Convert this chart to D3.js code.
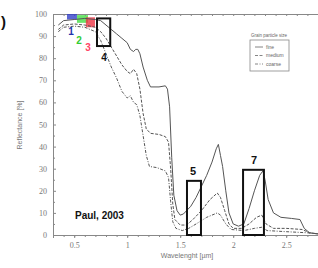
<!DOCTYPE html>
<html>
<head>
<meta charset="utf-8">
<script src="https://cdn.jsdelivr.net/npm/d3@7"></script>
<style>
  body { margin: 0; background: #fff; }
  svg { display: block; }
</style>
</head>
<body>
<div class="chart-container"></div>
<script>
// wavelength [µm] / reflectance [%]
const fineWl = [0.35, 0.4, 0.5, 0.6, 0.7, 0.75, 0.8, 0.85, 0.9, 0.95, 1.0, 1.03, 1.06, 1.08, 1.1, 1.12, 1.15, 1.19, 1.22, 1.3, 1.36, 1.38, 1.4, 1.42, 1.44, 1.47, 1.5, 1.53, 1.6, 1.65, 1.7, 1.75, 1.8, 1.84, 1.86, 1.88, 1.9, 1.93, 1.96, 2.0, 2.05, 2.1, 2.15, 2.2, 2.25, 2.28, 2.3, 2.33, 2.38, 2.45, 2.55, 2.63, 2.67, 2.72, 2.8]
const fineR = [95, 97, 97.5, 98, 97.5, 97, 95, 93, 91, 89, 87, 84, 83, 84, 84, 82, 76, 70, 67, 67, 67.5, 66, 58, 35, 18, 11, 9, 9.5, 13, 17, 22, 27, 33, 39, 41, 36, 31, 20, 10, 5, 4, 5, 12, 20, 27, 29, 25, 16, 10, 8, 7.5, 7, 3, 1, 0.5]

const mediumWl = [0.35, 0.4, 0.5, 0.6, 0.7, 0.75, 0.8, 0.85, 0.9, 0.95, 1.0, 1.03, 1.06, 1.09, 1.12, 1.15, 1.18, 1.22, 1.3, 1.36, 1.39, 1.41, 1.43, 1.45, 1.5, 1.56, 1.62, 1.7, 1.78, 1.85, 1.88, 1.92, 1.96, 2.0, 2.08, 2.15, 2.22, 2.27, 2.31, 2.38, 2.5, 2.65, 2.72, 2.8]
const mediumR = [93, 95, 95.5, 95, 94, 92, 89, 85, 81, 77, 74, 73, 75, 73, 66, 55, 48, 46, 45.5, 44.5, 42, 30, 14, 7, 4.5, 4.5, 7, 11, 16, 19, 17, 11, 5, 3, 3, 5, 8, 9, 5, 3, 3, 2.5, 1, 0.5]

const coarseWl = [0.35, 0.4, 0.5, 0.6, 0.7, 0.75, 0.8, 0.85, 0.9, 0.95, 1.0, 1.03, 1.06, 1.09, 1.12, 1.15, 1.18, 1.21, 1.28, 1.36, 1.39, 1.41, 1.43, 1.46, 1.52, 1.58, 1.65, 1.75, 1.85, 1.88, 1.93, 1.98, 2.1, 2.2, 2.27, 2.32, 2.5, 2.7, 2.8]
const coarseR = [92, 94, 94.5, 94, 92, 88, 82, 76, 71, 65, 62, 63, 60, 59, 54, 45, 36, 31, 30.5, 29, 26, 15, 6, 3, 2, 3, 5, 8, 10, 9, 5, 2.5, 2, 3, 3.5, 2, 1.5, 1, 0.5]

const seriesNames = ['fine', 'medium', 'coarse']
const xTicks = [0.5, 1, 1.5, 2, 2.5]
const yTicks = [0, 10, 20, 30, 40, 50, 60, 70, 80, 90, 100]

// sensor bands
const bandNames = ['1', '2', '3', '4', '5', '7']
const bandWl0 = [0.432, 0.526, 0.61, 0.715, 1.564, 2.093]
const bandWl1 = [0.526, 0.63, 0.696, 0.84, 1.696, 2.29]
const bandR0 = [97.5, 96, 94, 85.5, 0, 0]
const bandR1 = [100, 99.5, 98.5, 98, 24.5, 29.5]

const width = 318
const height = 268
const m = { left: 53, top: 14, bottom: 235, right: 318 }

const x = d3.scaleLinear().domain([0.3, 2.8]).range([m.left, m.right])
const y = d3.scaleLinear().domain([0, 100]).range([m.bottom, m.top])

const svg = d3
  .select('.chart-container')
  .append('svg')
  .attr('width', width)
  .attr('height', height)

const axisColor = '#888'
const tickFont = '"Liberation Serif", "DejaVu Serif", serif'

// axes
const gx = svg
  .append('g')
  .attr('transform', `translate(0,${m.bottom})`)
  .call(d3.axisBottom(x).tickValues(xTicks).tickSize(3).tickFormat(d3.format('')))
const gxMinor = svg
  .append('g')
  .attr('transform', `translate(0,${m.bottom})`)
  .call(d3.axisBottom(x).tickValues(d3.range(0.3, 2.81, 0.1)).tickSize(2).tickFormat(''))
const gxTop = svg
  .append('g')
  .attr('transform', `translate(0,${m.top})`)
  .call(d3.axisTop(x).tickValues(d3.range(0.3, 2.81, 0.1)).tickSize(-2).tickFormat(''))
const gy = svg
  .append('g')
  .attr('transform', `translate(${m.left},0)`)
  .call(d3.axisLeft(y).tickValues(yTicks).tickSize(-3).tickPadding(6))
const gyMinor = svg
  .append('g')
  .attr('transform', `translate(${m.left},0)`)
  .call(d3.axisLeft(y).tickValues(d3.range(5, 100, 10)).tickSize(-2).tickFormat(''))

;[gx, gxMinor, gxTop, gy, gyMinor].forEach((g) => {
  g.selectAll('path').attr('stroke', axisColor).attr('stroke-width', 1)
  g.selectAll('line').attr('stroke', axisColor)
  g.selectAll('text')
    .attr('fill', '#777')
    .attr('font-family', tickFont)
    .attr('font-size', 8)
})
gx.selectAll('text').attr('dy', '0.9em')

svg
  .append('text')
  .attr('x', 187)
  .attr('y', 258)
  .attr('text-anchor', 'middle')
  .attr('fill', '#777')
  .attr('font-family', 'Liberation Sans, Arial, sans-serif')
  .attr('font-size', 7)
  .text('Wavelenght [µm]')

svg
  .append('text')
  .attr('transform', 'translate(22,125) rotate(-90)')
  .attr('text-anchor', 'middle')
  .attr('fill', '#777')
  .attr('font-family', 'Liberation Sans, Arial, sans-serif')
  .attr('font-size', 7)
  .text('Reflectance [%]')

// panel letter (only its bracket is visible)
svg
  .append('text')
  .attr('x', 1)
  .attr('y', 27)
  .attr('font-family', 'Liberation Sans, Arial, sans-serif')
  .attr('font-weight', 'bold')
  .attr('font-size', 15)
  .attr('fill', '#111')
  .text(')')

// coloured visible bands
const bandFill = ['#3340c8', '#44dd44', '#ee3344']
const bandText = ['#2233aa', '#33cc33', '#ff4466']
const bands = svg.append('g').attr('class', 'bands')
for (let i = 0; i < 3; i++) {
  bands
    .append('rect')
    .attr('x', x(bandWl0[i]))
    .attr('y', y(bandR1[i]))
    .attr('width', x(bandWl1[i]) - x(bandWl0[i]))
    .attr('height', y(bandR0[i]) - y(bandR1[i]))
    .attr('fill', bandFill[i])
    .attr('fill-opacity', 0.8)
}

// curves
const line = d3
  .line()
  .x((d) => x(d[0]))
  .y((d) => y(d[1]))
const curves = [
  { wl: fineWl, r: fineR, dash: null },
  { wl: mediumWl, r: mediumR, dash: '3,1.5' },
  { wl: coarseWl, r: coarseR, dash: '3,1.5,1,1.5' },
]
curves.forEach((c) => {
  svg
    .append('path')
    .datum(c.wl.map((w, i) => [w, c.r[i]]))
    .attr('d', line)
    .attr('fill', 'none')
    .attr('stroke', '#555')
    .attr('stroke-width', 1)
    .attr('stroke-dasharray', c.dash)
})

// black band boxes 4, 5, 7
for (let i = 3; i < 6; i++) {
  svg
    .append('rect')
    .attr('x', x(bandWl0[i]))
    .attr('y', y(bandR1[i]))
    .attr('width', x(bandWl1[i]) - x(bandWl0[i]))
    .attr('height', y(bandR0[i]) - y(bandR1[i]))
    .attr('fill', 'none')
    .attr('stroke', '#111')
    .attr('stroke-width', 2)
}

// band numbers
const labelPos = [
  [71, 35],
  [79, 44],
  [88, 51],
  [104, 61],
  [193, 175],
  [254, 164],
]
bandNames.forEach((name, i) => {
  svg
    .append('text')
    .attr('x', labelPos[i][0])
    .attr('y', labelPos[i][1])
    .attr('text-anchor', 'middle')
    .attr('font-family', 'Liberation Sans, Arial, sans-serif')
    .attr('font-weight', 'bold')
    .attr('font-size', i > 3 ? 11 : 10)
    .attr('fill', i < 3 ? bandText[i] : '#111')
    .text(name)
})

// legend
const legend = svg.append('g').attr('transform', 'translate(250,40)')
legend
  .append('text')
  .attr('x', 19)
  .attr('y', -3)
  .attr('text-anchor', 'middle')
  .attr('font-family', 'Liberation Sans, Arial, sans-serif')
  .attr('font-size', 4.5)
  .attr('fill', '#666')
  .text('Grain particle size')
legend
  .append('rect')
  .attr('width', 39)
  .attr('height', 31)
  .attr('fill', '#fff')
  .attr('stroke', '#888')
  .attr('stroke-width', 0.8)
seriesNames.forEach((name, i) => {
  const yy = 7 + i * 8.5
  legend
    .append('line')
    .attr('x1', 5)
    .attr('x2', 13)
    .attr('y1', yy)
    .attr('y2', yy)
    .attr('stroke', '#666')
    .attr('stroke-width', 0.8)
    .attr('stroke-dasharray', curves[i].dash)
  legend
    .append('text')
    .attr('x', 16)
    .attr('y', yy + 1.8)
    .attr('font-family', 'Liberation Sans, Arial, sans-serif')
    .attr('font-size', 5)
    .attr('fill', '#666')
    .text(name)
})

// citation
svg
  .append('text')
  .attr('x', 75)
  .attr('y', 219)
  .attr('font-family', 'Liberation Sans, Arial, sans-serif')
  .attr('font-weight', 'bold')
  .attr('font-size', 10)
  .attr('fill', '#111')
  .text('Paul, 2003')
</script>
</body>
</html>
